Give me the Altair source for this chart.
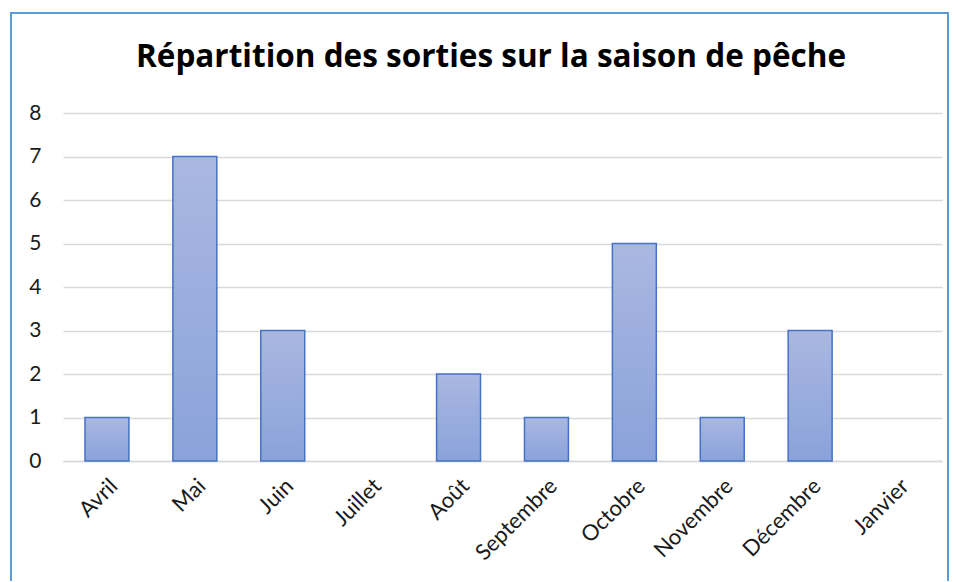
import altair as alt
import pandas as pd

months = ["Avril", "Mai", "Juin", "Juillet", "Août", "Septembre", "Octobre", "Novembre", "Décembre", "Janvier"]
sorties = [1, 7, 3, 0, 2, 1, 5, 1, 3, 0]
title_text = ["Répartition des sorties sur la saison de pêche"]

df = pd.DataFrame({"mois": months, "sorties": sorties})

FONT = "Lato"

grad = alt.Gradient(
    gradient="linear",
    stops=[alt.GradientStop(color="#AAB7E1", offset=0),
           alt.GradientStop(color="#8AA2DA", offset=1)],
    x1=1, x2=1, y1=0, y2=1,
)

bars = alt.Chart(df).mark_bar(color=grad, stroke="#4472C4", strokeWidth=1.5).encode(
    x=alt.X("mois:N", sort=months, title=None,
            scale=alt.Scale(paddingInner=0.5, paddingOuter=0.25),
            axis=alt.Axis(labelAngle=-45, labelFontSize=22, labelFont=FONT, labelColor="#1a1a1a",
                          ticks=False, domainColor="#D9D9D9", domainWidth=1.5, labelPadding=14)),
    y=alt.Y("sorties:Q", title=None,
            scale=alt.Scale(domain=[0, 8]),
            axis=alt.Axis(values=list(range(0, 9)), labelFontSize=21, labelFont=FONT, labelColor="#1a1a1a",
                          ticks=False, domain=False, gridColor="#D9D9D9", gridWidth=1.5, labelPadding=22)),
    strokeOpacity=alt.condition(alt.datum.sorties > 0, alt.value(1), alt.value(0)),
)

frame = alt.Chart(pd.DataFrame({"a": [0]})).mark_rect(fill=None, stroke="#5B9BD5", strokeWidth=2).encode(
    x=alt.value(-52), x2=alt.value(885), y=alt.value(-100), y2=alt.value(480)
)

title = alt.Chart(pd.DataFrame({"t": title_text})).mark_text(
    font="Open Sans", fontSize=31.5, fontWeight="bold", color="#000000", align="center", baseline="alphabetic"
).encode(text="t:N", x=alt.value(428), y=alt.value(-46))

chart = alt.layer(bars, frame, title).properties(
    width=879, height=348,
    autosize=alt.AutoSizeParams(type="none"),
    padding={"left": 55, "top": 105, "right": 8, "bottom": 120},
).configure_view(stroke=None)

chart.save("out.html", embed_options={"renderer": "svg", "actions": False})
